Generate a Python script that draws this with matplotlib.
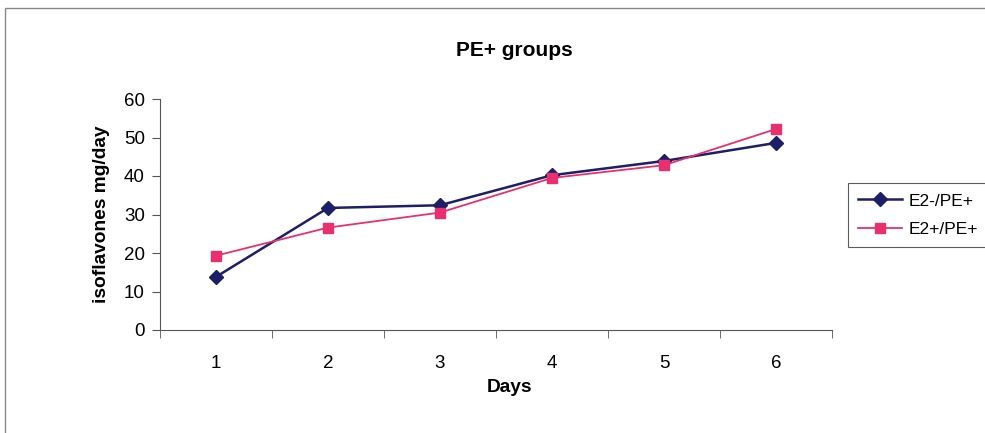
import matplotlib.pyplot as plt
from matplotlib.patches import Rectangle

plt.rcParams["font.family"] = ["Liberation Sans", "DejaVu Sans"]

days = [1, 2, 3, 4, 5, 6]
e2_minus = [13.8, 31.7, 32.4, 40.2, 43.9, 48.6]
e2_plus = [19.3, 26.6, 30.5, 39.5, 42.8, 52.2]
series_labels = ["E2-/PE+", "E2+/PE+"]

NAVY = "#1c1f66"
PINK = "#e8306f"
GREY = "#555555"

fig = plt.figure(figsize=(9.85, 4.33), dpi=100)
fig.patch.set_facecolor("white")

# outer chart-area frame (right and bottom edges are cut off in the scan)
fig.patches.append(Rectangle((5 / 985, -0.2), 1.2, 1.2 - 8 / 433,
                             transform=fig.transFigure, fill=False,
                             edgecolor="#888888", linewidth=1.0))

ax = fig.add_axes([160 / 985, 1 - 330 / 433, 672 / 985, 231 / 433])

ax.plot(days, e2_minus, color=NAVY, marker="D", markersize=7, linewidth=1.8,
        label=series_labels[0])
ax.plot(days, e2_plus, color=PINK, marker="s", markersize=7, linewidth=1.3,
        label=series_labels[1])

ax.set_xlim(0.5, 6.5)
ax.set_ylim(0, 60)
ax.set_yticks(range(0, 61, 10))
ax.set_xticks(days)
ax.set_xticks([d + 0.5 for d in [0] + days], minor=True)
ax.tick_params(axis="x", which="major", length=0, pad=18, labelsize=13.5)
ax.tick_params(axis="x", which="minor", length=6, color=GREY, direction="out")
ax.tick_params(axis="y", length=6, color=GREY, labelsize=13.5, pad=5)

for side in ["top", "right"]:
    ax.spines[side].set_visible(False)
for side in ["left", "bottom"]:
    ax.spines[side].set_color(GREY)

ax.set_ylabel("isoflavones mg/day", fontsize=13.8, fontweight="bold", labelpad=10)
fig.text(510 / 985, 1 - 388 / 433, "Days", ha="center", va="center",
         fontsize=13.8, fontweight="bold")
fig.text(514 / 985, 1 - 51 / 433, "PE+ groups", ha="center", va="center",
         fontsize=15, fontweight="bold")

leg = fig.legend(loc="upper left", bbox_to_anchor=(848 / 985, 1 - 183 / 433),
                 fontsize=12.5, frameon=True, fancybox=False, borderpad=0.6,
                 handlelength=2.5, handletextpad=0.4, labelspacing=0.75,
                 borderaxespad=0)
leg.get_frame().set_edgecolor("#333333")
leg.get_frame().set_linewidth(0.8)

fig.savefig("out.png", dpi=100)
